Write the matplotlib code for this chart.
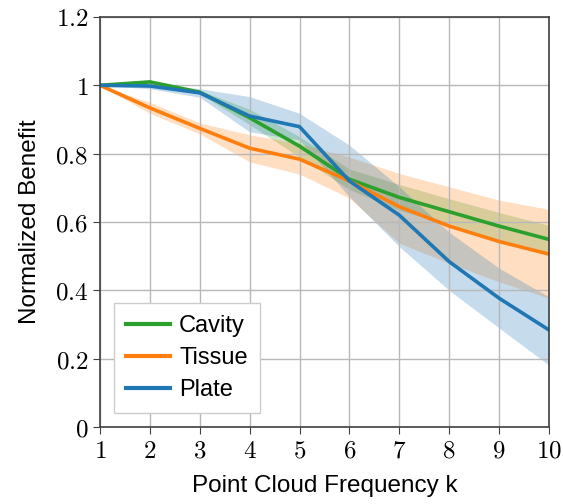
import matplotlib.pyplot as plt
import numpy as np

plt.rcParams['mathtext.fontset'] = 'cm'
plt.rcParams['font.family'] = ['Liberation Sans', 'DejaVu Sans']

k = [1, 2, 3, 4, 5, 6, 7, 8, 9, 10]

cavity = [1.0, 1.01, 0.98, 0.905, 0.822, 0.725, 0.672, 0.630, 0.588, 0.549]
cavity_lo = [1.0, 1.0, 0.975, 0.885, 0.79, 0.695, 0.635, 0.59, 0.548, 0.51]
cavity_hi = [1.0, 1.015, 0.985, 0.93, 0.85, 0.755, 0.71, 0.668, 0.628, 0.59]

tissue = [1.0, 0.934, 0.874, 0.816, 0.784, 0.72, 0.645, 0.588, 0.543, 0.506]
tissue_lo = [1.0, 0.918, 0.858, 0.776, 0.74, 0.67, 0.538, 0.479, 0.425, 0.377]
tissue_hi = [1.0, 0.95, 0.89, 0.855, 0.83, 0.79, 0.742, 0.703, 0.664, 0.637]

plate = [1.0, 0.998, 0.978, 0.91, 0.879, 0.72, 0.62, 0.484, 0.377, 0.284]
plate_lo = [1.0, 0.99, 0.965, 0.864, 0.84, 0.674, 0.528, 0.40, 0.29, 0.181]
plate_hi = [1.0, 1.005, 0.99, 0.967, 0.918, 0.825, 0.703, 0.57, 0.465, 0.381]

series = [
    ('Cavity', cavity, cavity_lo, cavity_hi, '#2ca02c'),
    ('Tissue', tissue, tissue_lo, tissue_hi, '#ff7f0e'),
    ('Plate', plate, plate_lo, plate_hi, '#1f77b4'),
]

fig = plt.figure(figsize=(5.63, 5.04), dpi=100)
ax = fig.add_axes([0.1776, 0.1528, 0.7974, 0.8135])

for name, mean, lo, hi, col in series:
    ax.fill_between(k, lo, hi, color=col, alpha=0.25, linewidth=0)
for name, mean, lo, hi, col in series:
    ax.plot(k, mean, color=col, linewidth=2.6, label=name)

ax.set_xlim(1, 10)
ax.set_ylim(0, 1.2)
ax.set_xticks(k)
ax.set_xticklabels(['$%d$' % v for v in k])
yt = [0, 0.2, 0.4, 0.6, 0.8, 1.0, 1.2]
ax.set_yticks(yt)
ax.set_yticklabels(['$%s$' % ('%g' % v) for v in yt])
ax.tick_params(axis='both', labelsize=18, direction='out', length=5,
               color='#404040', top=False, right=False)
ax.grid(True, color='#b8b8b8', linewidth=1)
for s in ax.spines.values():
    s.set_color('#404040')
    s.set_linewidth(1.2)

ax.set_xlabel('Point Cloud Frequency k', fontsize=17.5, labelpad=9)
ax.set_ylabel('Normalized Benefit', fontsize=17.5, labelpad=10)

leg = ax.legend(loc='lower left', fontsize=17, fancybox=False,
                edgecolor='#cccccc', framealpha=1, handlelength=1.85,
                handletextpad=0.4, borderaxespad=0.6, labelspacing=0.42,
                borderpad=0.5)
leg.get_frame().set_linewidth(1)
for ln in leg.get_lines():
    ln.set_linewidth(3)

fig.savefig('out.png', dpi=100)
